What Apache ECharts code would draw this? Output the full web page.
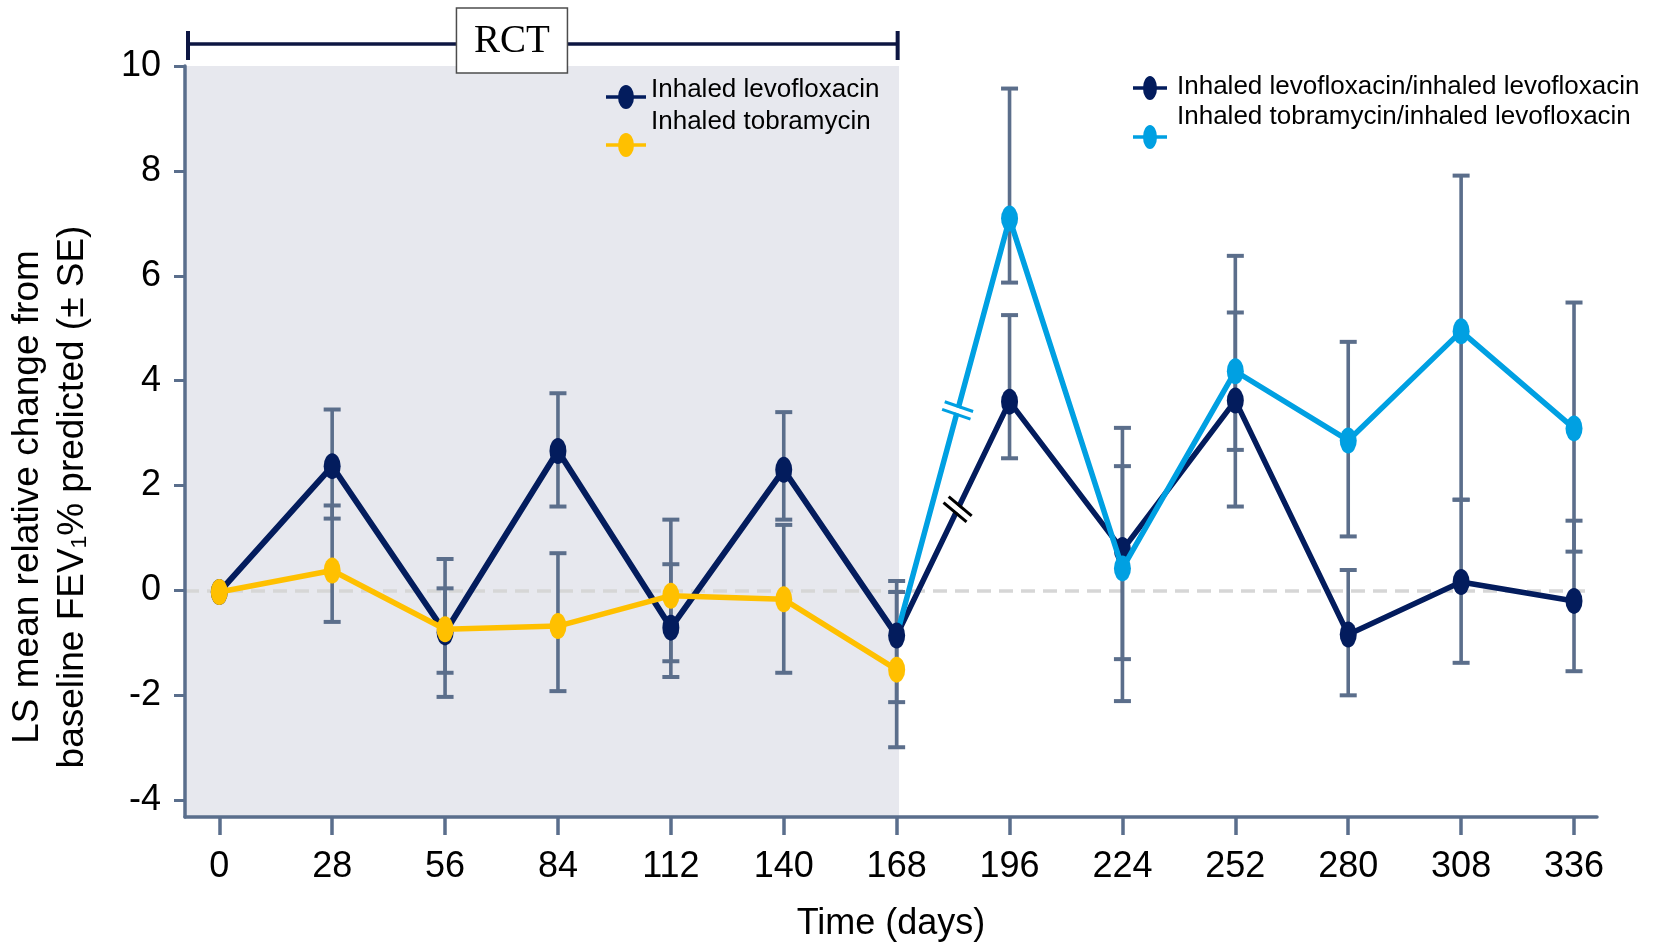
<!DOCTYPE html>
<html>
<head>
<meta charset="utf-8">
<script src="https://cdn.jsdelivr.net/npm/echarts@6/dist/echarts.min.js"></script>
<style>
html,body{margin:0;padding:0;background:#fff;}
#chart{width:1665px;height:942px;}
</style>
</head>
<body>
<div id="chart"></div>
<script>
// ---------------- data ----------------
const rctDays = [0, 28, 56, 84, 112, 140, 168];
const olDays = [168, 196, 224, 252, 280, 308, 336];
const xTickLabels = [0, 28, 56, 84, 112, 140, 168, 196, 224, 252, 280, 308, 336];
const yTickLabels = [-4, -2, 0, 2, 4, 6, 8, 10];

const seriesNames = [
  'Inhaled levofloxacin',
  'Inhaled tobramycin',
  'Inhaled levofloxacin/inhaled levofloxacin',
  'Inhaled tobramycin/inhaled levofloxacin'
];

// RCT phase
const levoRCT      = [-0.03, 2.37, -0.80, 2.66, -0.71, 2.30, -0.86];
const levoRCTLow   = [null, 1.37, -1.57, 1.60, -1.65, 1.35, -2.13];
const levoRCTHigh  = [null, 3.45, 0.04, 3.76, 0.50, 3.40, 0.18];
const tobraRCT     = [-0.03, 0.38, -0.74, -0.68, -0.10, -0.17, -1.51];
const tobraRCTLow  = [null, -0.60, -2.03, -1.92, -1.35, -1.57, -2.99];
const tobraRCTHigh = [null, 1.62, 0.60, 0.71, 1.35, 1.25, -0.03];
// Open-label phase
const levoLevo      = [-0.86, 3.60, 0.77, 3.62, -0.84, 0.16, -0.20];
const levoLevoLow   = [null, 2.52, -1.31, 1.60, -2.00, -1.38, -1.54];
const levoLevoHigh  = [null, 5.25, 3.10, 5.30, 0.39, 1.73, 1.33];
const tobraLevo     = [-0.86, 7.09, 0.42, 4.18, 2.86, 4.94, 3.09];
const tobraLevoLow  = [null, 5.87, -2.11, 2.68, 1.03, 1.73, 0.74];
const tobraLevoHigh = [null, 9.57, 2.37, 6.38, 4.74, 7.91, 5.49];

// ---------------- styling ----------------
const FONT = '"Liberation Sans", Arial, Helvetica, sans-serif';
const NAVY = '#031c5d', YELLOW = '#ffc000', LBLUE = '#00a0e2', ERR = '#5b6e8b', AXIS = '#5a6e8c';
const X_MIN = -8.5, X_MAX = 341.7, Y_MIN = -4.32, Y_MAX = 10;

function pairs(xs, ys, hideFirst) {
  return xs.map((x, i) => (hideFirst && i === 0) ? { value: [x, ys[i]], symbol: 'none' } : [x, ys[i]]);
}
function errs(xs, lo, hi) {
  const out = [];
  xs.forEach((x, i) => { if (lo[i] != null && hi[i] != null) out.push([x, lo[i], hi[i]]); });
  return out;
}
const allErr = [].concat(
  errs(rctDays, levoRCTLow, levoRCTHigh),
  errs(rctDays, tobraRCTLow, tobraRCTHigh),
  errs(olDays, levoLevoLow, levoLevoHigh),
  errs(olDays, tobraLevoLow, tobraLevoHigh)
);

// legend icon: a short line with an upright oval; ye = oval centre (the icon box height is ye+12,
// so the legend text, centred on the box, sits above the marker as in the original figure)
function legendIcon(w, rx, ye) {
  const cx = w / 2;
  return 'path://M' + cx + ',0 L' + (cx + 0.01) + ',0 Z ' +
    'M0,' + (ye - 1.7) + ' L' + w + ',' + (ye - 1.7) + ' L' + w + ',' + (ye + 1.7) + ' L0,' + (ye + 1.7) + ' Z ' +
    'M' + (cx - rx) + ',' + ye + ' A' + rx + ',12 0 1,1 ' + (cx + rx) + ',' + ye +
    ' A' + rx + ',12 0 1,1 ' + (cx - rx) + ',' + ye + ' Z';
}

function legendItem(name, w, rx, ye, left, iconCenterY, textPadLeft) {
  return {
    data: [{ name: name, icon: legendIcon(w, rx, ye) }],
    left: left, top: iconCenterY - ye, padding: 0,
    itemWidth: w, itemHeight: ye + 12,
    selectedMode: false,
    textStyle: { fontFamily: FONT, fontSize: 26, color: '#000', padding: [0, 0, 0, textPadLeft] }
  };
}

const chart = echarts.init(document.getElementById('chart'), null, { renderer: 'canvas' });

const option = {
  animation: false,
  backgroundColor: '#fff',
  grid: { left: 185, right: 68, top: 66, bottom: 125, containLabel: false, outerBoundsMode: 'none' },
  legend: [
    legendItem(seriesNames[0], 40, 8, 26, 606, 97, 0),
    legendItem(seriesNames[1], 40, 8, 58, 606, 145, 0),
    legendItem(seriesNames[2], 34, 7, 14, 1133, 88, 5),
    legendItem(seriesNames[3], 34, 7, 52, 1133, 137, 5)
  ],
  xAxis: {
    type: 'value', min: X_MIN, max: X_MAX, z: 3,
    name: 'Time (days)', nameLocation: 'middle', nameGap: 89,
    nameTextStyle: { fontFamily: FONT, fontSize: 36, color: '#000' },
    axisLine: { show: true, onZero: false, lineStyle: { color: AXIS, width: 3.5 } },
    axisTick: { show: true, length: 18, lineStyle: { color: AXIS, width: 3.5 }, customValues: xTickLabels },
    axisLabel: { fontFamily: FONT, fontSize: 36, color: '#000', margin: 32, customValues: xTickLabels },
    splitLine: { show: false }
  },
  yAxis: {
    type: 'value', min: Y_MIN, max: Y_MAX, z: 3,
    axisLine: { show: true, onZero: false, lineStyle: { color: AXIS, width: 3.5 } },
    axisTick: { show: true, length: 11, lineStyle: { color: AXIS, width: 3 }, customValues: yTickLabels },
    axisLabel: { fontFamily: FONT, fontSize: 36, color: '#000', margin: 24, customValues: yTickLabels },
    splitLine: { show: false }
  },
  series: [
    {
      name: 'SE',
      type: 'custom',
      z: 2,
      encode: { x: 0, y: [1, 2] },
      data: allErr,
      renderItem: function (params, api) {
        const x = api.value(0);
        const pLo = api.coord([x, api.value(1)]);
        const pHi = api.coord([x, api.value(2)]);
        const hw = 8.5;
        const st = { stroke: ERR, lineWidth: 3.6 };
        const cap = { stroke: ERR, lineWidth: 4 };
        return {
          type: 'group',
          children: [
            { type: 'line', shape: { x1: pLo[0], y1: pLo[1], x2: pHi[0], y2: pHi[1] }, style: st },
            { type: 'line', shape: { x1: pLo[0] - hw, y1: pLo[1], x2: pLo[0] + hw, y2: pLo[1] }, style: cap },
            { type: 'line', shape: { x1: pHi[0] - hw, y1: pHi[1], x2: pHi[0] + hw, y2: pHi[1] }, style: cap }
          ]
        };
      },
      markArea: {
        silent: true, z: 0,
        itemStyle: { color: '#e7e8ee', borderWidth: 0 },
        data: [[{ xAxis: X_MIN }, { xAxis: 168.6 }]]
      },
      markLine: {
        silent: true, z: 1, symbol: 'none',
        label: { show: false },
        lineStyle: { color: '#d6d6d6', width: 3.5, type: [14, 8] },
        data: [[{ coord: [X_MIN, 0] }, { coord: [340, 0] }]]
      }
    },
    {
      name: seriesNames[2], type: 'line', z: 3,
      data: pairs(olDays, levoLevo, true),
      symbol: 'circle', symbolSize: [17, 26],
      itemStyle: { color: NAVY, borderWidth: 0 },
      lineStyle: { color: NAVY, width: 5.5 }
    },
    {
      name: seriesNames[3], type: 'line', z: 4,
      data: pairs(olDays, tobraLevo, true),
      symbol: 'circle', symbolSize: [17, 26],
      itemStyle: { color: LBLUE, borderWidth: 0 },
      lineStyle: { color: LBLUE, width: 5.5 }
    },
    {
      name: seriesNames[0], type: 'line', z: 5,
      data: pairs(rctDays, levoRCT, false),
      symbol: 'circle', symbolSize: [17, 26],
      itemStyle: { color: NAVY, borderWidth: 0 },
      lineStyle: { color: NAVY, width: 6 }
    },
    {
      name: seriesNames[1], type: 'line', z: 6,
      data: pairs(rctDays, tobraRCT, false),
      symbol: 'circle', symbolSize: [17, 26],
      itemStyle: { color: YELLOW, borderWidth: 0 },
      lineStyle: { color: YELLOW, width: 5.5 }
    }
  ]
};
chart.setOption(option);

// ---------------- annotations ----------------
function px(x, y) { return chart.convertToPixel({ gridIndex: 0 }, [x, y]); }

function breakMark(cx, cy, angleDeg, color) {
  const a = angleDeg * Math.PI / 180;
  const dx = Math.cos(a), dy = Math.sin(a), nx = -dy, ny = dx;
  const half = 15, off = 4;
  const mk = (s) => ({
    type: 'line', z: 20,
    shape: { x1: cx + nx * off * s - dx * half, y1: cy + ny * off * s - dy * half,
             x2: cx + nx * off * s + dx * half, y2: cy + ny * off * s + dy * half },
    style: { stroke: color, lineWidth: 3 }
  });
  return [
    { type: 'line', z: 19, shape: { x1: cx - dx * 12, y1: cy - dy * 12, x2: cx + dx * 12, y2: cy + dy * 12 },
      style: { stroke: '#fff', lineWidth: 5.5 } },
    mk(-1), mk(1)
  ];
}

const t = 0.54;
const lbC = px(olDays[0] + t * (olDays[1] - olDays[0]), tobraLevo[0] + t * (tobraLevo[1] - tobraLevo[0]));
const nvC = px(olDays[0] + t * (olDays[1] - olDays[0]), levoLevo[0] + t * (levoLevo[1] - levoLevo[0]));

const L = px(X_MIN, 0)[0] + 3;
const R = px(168, 0)[0] + 1;
const topY = px(0, Y_MAX)[1];
const yB = topY - 22;
const boxCx = L + (R - L) * 0.4565;

const graphics = [
  { type: 'line', z: 9, shape: { x1: L, y1: yB, x2: R, y2: yB }, style: { stroke: '#0d1642', lineWidth: 3.5 } },
  { type: 'line', z: 9, shape: { x1: L, y1: yB - 13, x2: L, y2: yB + 16 }, style: { stroke: '#0d1642', lineWidth: 4 } },
  { type: 'line', z: 9, shape: { x1: R, y1: yB - 13, x2: R, y2: yB + 16 }, style: { stroke: '#0d1642', lineWidth: 4 } },
  { type: 'rect', z: 10, shape: { x: boxCx - 55.5, y: 8, width: 111, height: 65 },
    style: { fill: '#fff', stroke: '#4d4d4d', lineWidth: 1.5 } },
  { type: 'text', z: 11, x: boxCx, y: 42,
    style: { text: 'RCT', fontFamily: '"Liberation Serif", "Times New Roman", serif', fontSize: 39,
             fill: '#000', align: 'center', verticalAlign: 'middle' } },
  { type: 'text', z: 11, x: 50, y: 497, rotation: Math.PI / 2,
    style: { text: 'LS mean relative change from\nbaseline FEV\u2081% predicted (\u00b1 SE)', fontFamily: FONT,
             fontSize: 37, lineHeight: 45, fill: '#000', align: 'center', verticalAlign: 'middle' } }
].concat(breakMark(lbC[0], lbC[1], 19, LBLUE), breakMark(nvC[0], nvC[1], 40, '#000'));

chart.setOption({ graphic: graphics });
</script>
</body>
</html>
